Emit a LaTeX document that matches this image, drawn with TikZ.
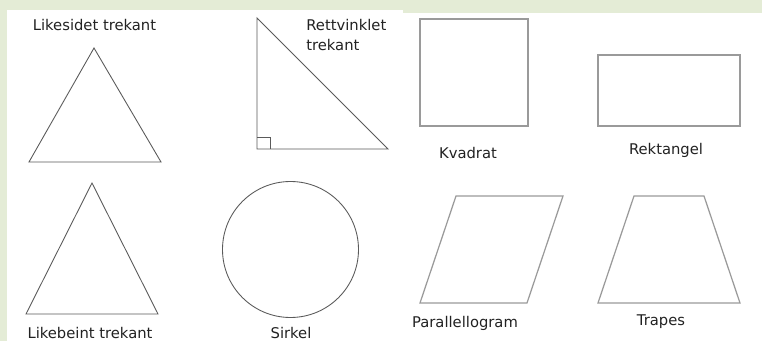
\documentclass[tikz,border=0pt]{standalone}
\usepackage{fontspec}
\setmainfont{DejaVu Sans}
\definecolor{panelgreen}{HTML}{E4ECD6}
\definecolor{darkline}{HTML}{5A5A5A}
\definecolor{lightline}{HTML}{9A9A9A}
\definecolor{labeltext}{HTML}{222222}
\begin{document}
\begin{tikzpicture}[
        x=0.02cm, y=-0.02cm,
        figure/.style={draw=darkline, line width=0.5pt, line join=miter},
        softfigure/.style={draw=lightline, line width=0.7pt},
        shapename/.style={text=labeltext, inner sep=0pt,
          font=\fontsize{8.4}{11.3}\selectfont}
      ]

      % background and white panels
      \fill[panelgreen] (0,0) rectangle (762,341);
      \fill[white] (7,10) rectangle (403,341);
      \fill[white] (403,13) rectangle (762,341);
      \useasboundingbox (0,0) rectangle (762,341);

      % left half
      \draw[figure] (94,48) -- (29,162) -- (161,162) -- cycle;
      \draw[figure] (257,18) -- (257,149) -- (388,149) -- cycle;
      \draw[figure] (257,137) -| (270,149);
      \draw[figure] (92,183) -- (26,314) -- (158,314) -- cycle;
      \draw[figure] (290.5,249.5) circle (68);

      \node[shapename] (likesidet) at (94.5,25) {Likesidet trekant};
      \node[shapename, anchor=west, align=left] (rettvinklet) at (306,35)
        {Rettvinklet\\trekant};
      \node[shapename] (likebeint) at (90,333) {Likebeint trekant};
      \node[shapename] (sirkel) at (291,333) {Sirkel};

      % right half
      \draw[softfigure] (420,19) rectangle (528,126);
      \draw[softfigure] (598,55) rectangle (740,126);
      \draw[softfigure] (456,196) -- (563,196) -- (527,303) -- (420,303) -- cycle;
      \draw[softfigure] (634,196) -- (704,196) -- (740,303) -- (598,303) -- cycle;

      \node[shapename] (kvadrat) at (468,153) {Kvadrat};
      \node[shapename] (rektangel) at (666,150) {Rektangel};
      \node[shapename] (parallellogram) at (465,323) {Parallellogram};
      \node[shapename] (trapes) at (661,322) {Trapes};

    \end{tikzpicture}
\end{document}
